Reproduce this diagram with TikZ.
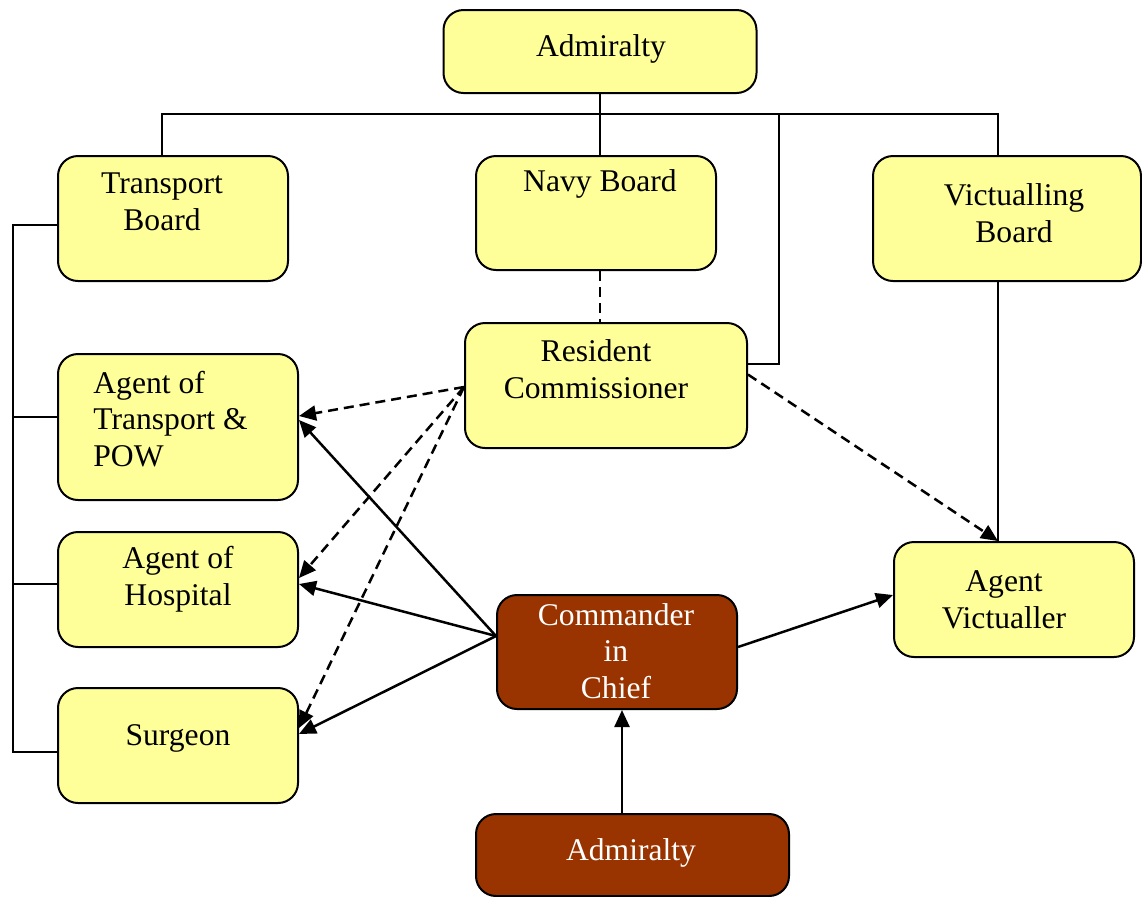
\documentclass[tikz,border=0pt]{standalone}
\usepackage{fontspec}
\setmainfont{Liberation Serif}
\usetikzlibrary{arrows.meta,calc}
\definecolor{paleyellow}{HTML}{FFFF99}
\definecolor{rust}{HTML}{993300}
\begin{document}
\begin{tikzpicture}[x=0.5pt,y=-0.5pt,
  box/.style={draw=black, line width=1pt, rounded corners=10pt, fill=paleyellow, inner sep=0pt},
  darkbox/.style={box, fill=rust},
  sz/.style 2 args={minimum width=#1*0.5pt, minimum height=#2*0.5pt},
  lbl/.style={font=\fontsize{15.8}{18.25}\selectfont, align=center, inner sep=0pt},
  wlbl/.style={lbl, text=white},
  link/.style={line width=1pt},
  dlink/.style={line width=1pt, dash pattern=on 5pt off 3pt},
  arr/.style={line width=1.25pt, -{Triangle[length=8.5pt,width=7.5pt]}},
  darr/.style={arr, dash pattern=on 5pt off 3pt},
]
\useasboundingbox (0,0) rectangle (1142,896);

% boxes
\node[box, sz={313}{83}]  (adm) at (600,51.5) {};
\node[box, sz={230}{125}] (tb)  at (173,218.5) {};
\node[box, sz={240}{114}] (nb)  at (596,213) {};
\node[box, sz={268}{125}] (vb)  at (1007,218.5) {};
\node[box, sz={282}{125}] (rc)  at (606,385.5) {};
\node[box, sz={240}{146}] (at)  at (178,427) {};
\node[box, sz={240}{115}] (ah)  at (178,589.5) {};
\node[box, sz={240}{115}] (sg)  at (178,745.5) {};
\node[darkbox, sz={240}{114}] (cc) at (617,652) {};
\node[box, sz={240}{115}] (av)  at (1014,599.5) {};
\node[darkbox, sz={313}{82}] (ab) at (632.5,855) {};

% labels
\node[lbl] (admT) at (601,49) {Admiralty};
\node[lbl] (tbT)  at (162,202) {Transport\\Board};
\node[lbl] (nbT)  at (600,184) {Navy Board};
\node[lbl] (vbT)  at (1014,213) {Victualling\\Board};
\node[lbl] (rcT)  at (596,369) {Resident\\Commissioner};
\node[lbl, align=left, anchor=west] (atT) at (93,419) {Agent of\\Transport \&\\POW};
\node[lbl] (ahT)  at (178,579) {Agent of\\Hospital};
\node[lbl] (sgT)  at (178,738) {Surgeon};
\node[wlbl] (ccT) at (616,651) {Commander\\in\\Chief};
\node[lbl] (avT)  at (1004,600) {Agent\\Victualler};
\node[wlbl] (abT) at (631,853) {Admiralty};

% tree under the Admiralty
\coordinate (hub)   at (600,114);
\coordinate (rcTap) at (779,114);
\coordinate (tbTop) at ($(tb.north)+(-11,0)$);
\coordinate (vbTop) at ($(vb.north)+(-9,0)$);
\coordinate (vbBot) at ($(vb.south)+(-9,0)$);
\coordinate (avTop) at ($(av.north)+(-16,0)$);
\coordinate (rcIn)  at ($(rc.east)+(0,-21.5)$);

\draw[link] (adm.south) -- (hub);
\draw[link] (tbTop) -- (tbTop |- hub) -- (hub -| vbTop) -- (vbTop);
\draw[link] (hub) -- (hub |- nb.north);
\draw[link] (rcIn) -| (rcTap);
\draw[dlink] (hub |- nb.south) -- (hub |- rc.north);
\draw[link] (vbBot) -- (avTop);

% left-hand spine
\coordinate (spTop) at (13,225);
\coordinate (spBot) at (13,752);
\draw[link] ($(tb.west)+(0,6.5)$) -- (spTop) -- (spBot) -- ($(sg.west)+(0,6.5)$);
\draw[link] (spTop |- 0,417) -- ($(at.west)+(0,-10)$);
\draw[link] (spTop |- 0,584) -- ($(ah.west)+(0,-5.5)$);

% Resident Commissioner (dashed)
\coordinate (rcOut) at ($(rc.west)+(0,1.5)$);
\draw[darr] (rcOut) -- ($(at.east)+(0,-11)$);
\draw[darr] (rcOut) -- ($(ah.east)+(0,-11.5)$);
\draw[darr] (rcOut) -- ($(sg.east)+(0,-17.5)$);
\draw[darr] ($(rc.east)+(0,-11)$) -- (avTop);

% Commander in Chief (solid)
\coordinate (ccOut) at ($(cc.west)+(0,-16)$);
\draw[arr] (ccOut) -- ($(at.east)+(0,-7)$);
\draw[arr] (ccOut) -- ($(ah.east)+(0,-5.5)$);
\draw[arr] (ccOut) -- ($(sg.east)+(0,-11.5)$);
\draw[arr] ($(cc.east)+(0,-5)$) -- ($(av.west)+(0,-4.5)$);
\draw[arr] ($(ab.north)+(-10.5,0)$) -- ($(cc.south)+(5,0)$);
\end{tikzpicture}
\end{document}
